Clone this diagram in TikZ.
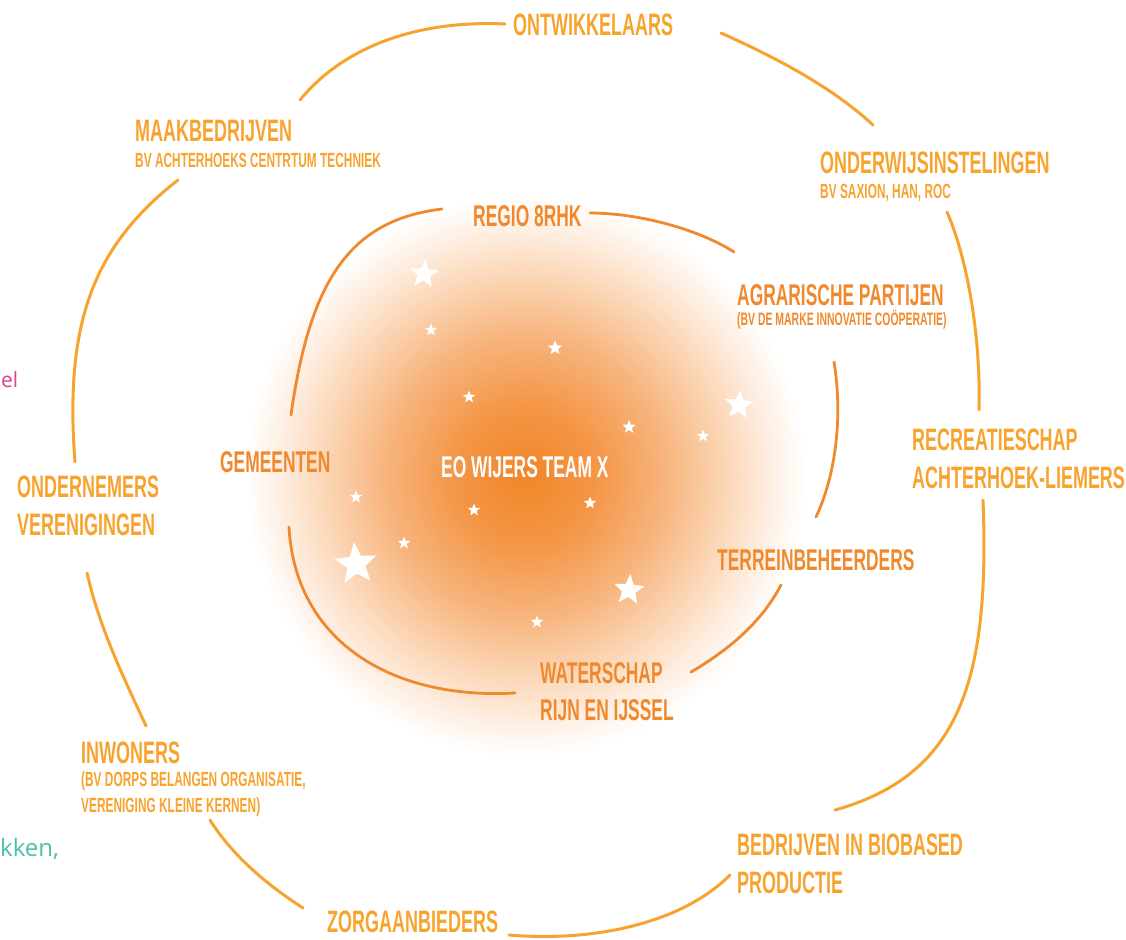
\documentclass[tikz,border=0pt]{standalone}
\usepackage{fontspec}
\usetikzlibrary{shapes.geometric}
\newfontfamily\cond[FakeStretch=0.58]{Liberation Sans}
\newfontfamily\opensans{Open Sans}
\definecolor{outerc}{RGB}{247,163,45}
\definecolor{innerc}{RGB}{240,137,45}
\definecolor{gcore}{RGB}{241,134,40}
\definecolor{ga}{RGB}{244,150,70}
\definecolor{gb}{RGB}{247,180,125}
\definecolor{gc}{RGB}{251,212,178}
\definecolor{gd}{RGB}{254,238,225}
\definecolor{pinkc}{RGB}{224,64,140}
\definecolor{tealc}{RGB}{77,190,170}
\pgfdeclareradialshading{glow}{\pgfpoint{0bp}{0bp}}{color(0bp)=(gcore); color(5bp)=(ga); color(10bp)=(gb); color(14bp)=(gc); color(17.5bp)=(gd); color(20bp)=(white); color(50bp)=(white)}
\tikzset{
  outerlbl/.style={anchor=base west, inner sep=0pt, text=outerc, font=\cond\bfseries\fontsize{31}{31}\selectfont},
  outersub/.style={anchor=base west, inner sep=0pt, text=outerc, font=\cond\bfseries\fontsize{20.5}{20.5}\selectfont},
  innerlbl/.style={anchor=base west, inner sep=0pt, text=innerc, font=\cond\bfseries\fontsize{30}{30}\selectfont},
  innersub/.style={anchor=base west, inner sep=0pt, text=innerc, font=\cond\bfseries\fontsize{18}{18}\selectfont},
  ring/.style={draw=outerc, line width=3pt, line cap=round},
  iring/.style={draw=innerc, line width=2.8pt, line cap=round},
  twinkle/.style={star, star points=5, star point ratio=2.3, fill=white, draw=none, inner sep=0pt},
  stray/.style={anchor=base west, inner sep=0pt, font=\opensans\fontsize{21}{21}\selectfont},
}
\begin{document}
\begin{tikzpicture}[x=1pt, y=-1pt]
\useasboundingbox (0,0) rectangle (1126,939);
% glow
\shade[shading=glow] (525,476) circle (350);

% outer ring endpoints
\coordinate (o1a) at (300,100); \coordinate (o1b) at (505,24);
\coordinate (o2a) at (721,33);  \coordinate (o2b) at (873,125);
\coordinate (o3a) at (947,212); \coordinate (o3b) at (979,410);
\coordinate (o4a) at (983,500); \coordinate (o4b) at (835,810);
\coordinate (o5a) at (730,875); \coordinate (o5b) at (509,935);
\coordinate (o6a) at (210,820); \coordinate (o6b) at (303,908);
\coordinate (o7a) at (87,573);  \coordinate (o7b) at (146,726);
\coordinate (o8a) at (75,462);  \coordinate (o8b) at (178,180);
\draw[ring] (o1a) .. controls (345,45) and (420,20) .. (o1b);
\draw[ring] (o2a) .. controls (770,55) and (830,85) .. (o2b);
\draw[ring] (o3a) .. controls (968,260) and (981,340) .. (o3b);
\draw[ring] (o4a) .. controls (990,680) and (960,775) .. (o4b);
\draw[ring] (o5a) .. controls (680,925) and (590,942) .. (o5b);
\draw[ring] (o6a) .. controls (235,860) and (275,890) .. (o6b);
\draw[ring] (o7a) .. controls (100,630) and (125,680) .. (o7b);
\draw[ring] (o8a) .. controls (64,320) and (95,245) .. (o8b);

% inner ring endpoints
\coordinate (i1a) at (442,209); \coordinate (i1b) at (291,415);
\coordinate (i2a) at (590,213); \coordinate (i2b) at (734,252);
\coordinate (i3a) at (834,362); \coordinate (i3b) at (816,517);
\coordinate (i4a) at (781,585); \coordinate (i4b) at (691,672);
\coordinate (i5a) at (289,527); \coordinate (i5b) at (515,693);
\draw[iring] (i1a) .. controls (350,220) and (310,280) .. (i1b);
\draw[iring] (i2a) .. controls (640,213) and (700,230) .. (i2b);
\draw[iring] (i3a) .. controls (842,410) and (838,470) .. (i3b);
\draw[iring] (i4a) .. controls (760,625) and (725,652) .. (i4b);
\draw[iring] (i5a) .. controls (295,640) and (390,700) .. (i5b);

% outer labels
\node[outerlbl] (ontw) at (513,36) {ONTWIKKELAARS};
\node[outerlbl] (maak) at (135,142) {MAAKBEDRIJVEN};
\node[outersub] (maaksub) at (135,167) {BV ACHTERHOEKS CENTRTUM TECHNIEK};
\node[outerlbl] (onderw) at (820,173) {ONDERWIJSINSTELINGEN};
\node[outersub] (onderwsub) at (820,198) {BV SAXION, HAN, ROC};
\node[outerlbl] (recr1) at (912,450) {RECREATIESCHAP};
\node[outerlbl] (recr2) at (912,488) {ACHTERHOEK-LIEMERS};
\node[outerlbl] (ondn1) at (17,497) {ONDERNEMERS};
\node[outerlbl] (ondn2) at (17,535) {VERENIGINGEN};
\node[outerlbl] (inw) at (81,763) {INWONERS};
\node[outersub] (inwsub1) at (81,786) {(BV DORPS BELANGEN ORGANISATIE,};
\node[outersub] (inwsub2) at (81,812) {VERENIGING KLEINE KERNEN)};
\node[outerlbl] (zorg) at (327,932) {ZORGAANBIEDERS};
\node[outerlbl] (bio1) at (737,855) {BEDRIJVEN IN BIOBASED};
\node[outerlbl] (bio2) at (737,893) {PRODUCTIE};

% inner labels
\node[innerlbl] (regio) at (473,226) {REGIO 8RHK};
\node[innerlbl] (agr) at (737,305) {AGRARISCHE PARTIJEN};
\node[innersub] (agrsub) at (737,325) {(BV DE MARKE INNOVATIE COÖPERATIE)};
\node[innerlbl] (gem) at (220,472) {GEMEENTEN};
\node[innerlbl] (terr) at (717,570) {TERREINBEHEERDERS};
\node[innerlbl] (wat1) at (540,683) {WATERSCHAP};
\node[innerlbl] (wat2) at (540,720) {RIJN EN IJSSEL};
\node[innerlbl, text=white] (team) at (441,477) {EO WIJERS TEAM X};

% stars
\node[twinkle, minimum size=30pt, rotate=-5] (s1) at (424,274) {};
\node[twinkle, minimum size=13pt] (s2) at (431,330) {};
\node[twinkle, minimum size=15pt] (s3) at (555,348) {};
\node[twinkle, minimum size=13pt] (s4) at (469,397) {};
\node[twinkle, minimum size=14pt] (s5) at (629,427) {};
\node[twinkle, minimum size=13pt] (s6) at (703,436) {};
\node[twinkle, minimum size=30pt, rotate=-5] (s7) at (739,405) {};
\node[twinkle, minimum size=13pt] (s8) at (356,497) {};
\node[twinkle, minimum size=13pt] (s9) at (474,510) {};
\node[twinkle, minimum size=13pt] (s10) at (590,503) {};
\node[twinkle, minimum size=13pt] (s11) at (404,543) {};
\node[twinkle, minimum size=44pt, rotate=5] (s12) at (356,564) {};
\node[twinkle, minimum size=32pt, rotate=-5] (s13) at (629,590) {};
\node[twinkle, minimum size=13pt] (s14) at (537,622) {};

% stray text fragments at left edge
\node[stray, text=pinkc] (frag1) at (1,387) {el};
\node[stray, text=tealc, font=\opensans\fontsize{24}{24}\selectfont] (frag2) at (0,856) {kken,};
\end{tikzpicture}
\end{document}
